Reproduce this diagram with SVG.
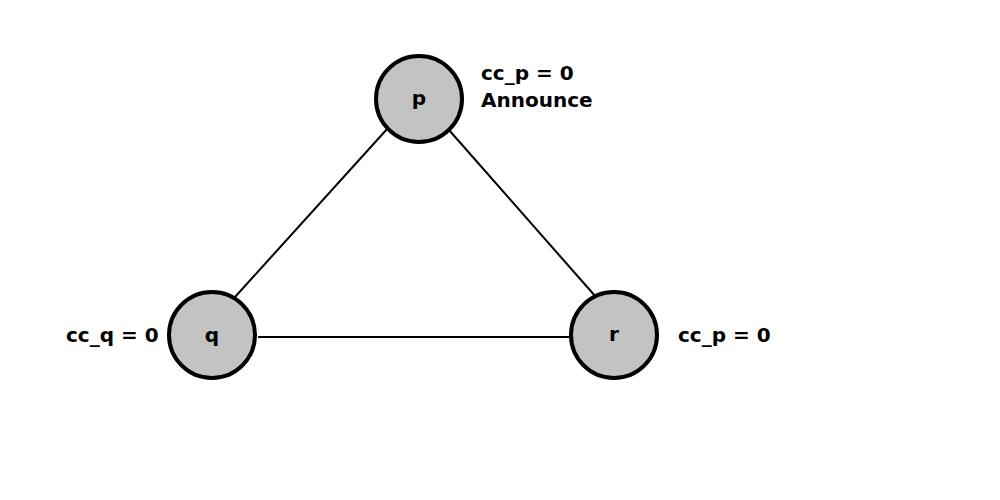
<svg xmlns="http://www.w3.org/2000/svg" width="1000" height="500" viewBox="0 0 1000 500">
<style>
.node{fill:#c3c3c3;stroke:#000;stroke-width:4}
.edge{stroke:#000;stroke-width:2;fill:none}
text{font-family:"DejaVu Sans","Liberation Sans",sans-serif;font-weight:bold;font-size:20px;fill:#000}
.lbl{text-anchor:middle}
</style>
<rect width="1000" height="500" fill="#fff"/>
<g id="connectors">
<line class="edge" x1="388" y1="128" x2="235" y2="297"/>
<line class="edge" x1="449" y1="130" x2="596" y2="297"/>
<line class="edge" x1="258" y1="337" x2="570" y2="337"/>
</g>
<g id="node-p">
<circle class="node" cx="419" cy="99" r="43"/>
<text class="lbl" x="419" y="105">p</text>
<text x="481" y="80">cc_p = 0</text>
<text x="481" y="107">Announce</text>
</g>
<g id="node-q">
<circle class="node" cx="212" cy="335" r="43"/>
<text class="lbl" x="212" y="342">q</text>
<text x="66" y="342">cc_q = 0</text>
</g>
<g id="node-r">
<circle class="node" cx="614" cy="335" r="43"/>
<text class="lbl" x="614" y="341">r</text>
<text x="678" y="342">cc_p = 0</text>
</g>
</svg>
